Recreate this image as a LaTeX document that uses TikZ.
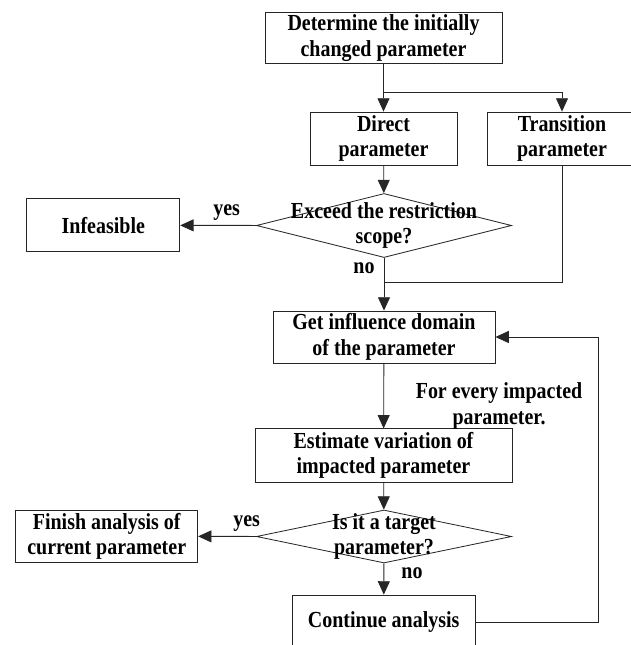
\documentclass[tikz,border=0pt]{standalone}
\usepackage{fontspec}
\setmainfont{Liberation Serif}[FakeStretch=0.87]
\usetikzlibrary{shapes.geometric,arrows.meta}

\begin{document}
\begin{tikzpicture}[
  x=0.3mm, y=-0.3mm,
  box/.style={draw=black!85, line width=0.7pt, align=center, inner sep=2pt,
              font=\bfseries\fontsize{19.6}{21.7}\selectfont},
  decision/.style={draw=black!85, line width=0.7pt, shape=diamond, inner sep=0pt},
  dtext/.style={align=center, font=\bfseries\fontsize{19.6}{21.7}\selectfont},
  lbl/.style={align=center, inner sep=0pt, font=\bfseries\fontsize{19.6}{21.7}\selectfont},
  arrow/.style={-{Triangle[length=4mm,width=3.6mm]}, draw=black!85, line width=0.7pt},
  line/.style={draw=black!85, line width=0.7pt}
]
  \useasboundingbox (0,0) rectangle (631,645);
  \clip (0,0) rectangle (631,645);

  % upper part
  \node[box, minimum width=71.1mm, minimum height=15mm] (init) at (383.5,38)
    {Determine the initially\\changed parameter};
  \node[box, minimum width=44.1mm, minimum height=15.9mm] (direct) at (383.5,138.5)
    {Direct\\parameter};
  \node[box, minimum width=45mm, minimum height=15.9mm] (trans) at (562,138.5)
    {Transition\\parameter};
  \node[decision, minimum width=76.5mm, minimum height=19.2mm] (q1) at (384,225.5) {};
  \node[dtext] (q1text) at (q1) {Exceed the restriction\\scope?};
  \node[box, minimum width=45.9mm, minimum height=15.9mm] (infeas) at (103.3,225.3)
    {Infeasible};

  % lower part
  \node[box, minimum width=66.6mm, minimum height=15.6mm] (influence) at (384,337)
    {Get influence domain\\of the parameter};
  \node[box, minimum width=77.1mm, minimum height=16mm] (estimate) at (383.5,455.5)
    {Estimate variation of\\impacted parameter};
  \node[decision, minimum width=76.5mm, minimum height=15.9mm] (q2) at (384,536.5) {};
  \node[dtext] (q2text) at (q2) {Is it a target\\parameter?};
  \node[box, minimum width=54.6mm, minimum height=15.8mm] (finish) at (106.7,536.3)
    {Finish analysis of\\current parameter};
  \node[box, minimum width=54.8mm, minimum height=16.2mm] (cont) at (383.7,622)
    {Continue analysis};

  % helper points
  \coordinate (split) at (383.5,92.7);
  \coordinate (join) at (384,282.7);
  \coordinate (loop) at (598.3,337);

  % connectors
  \draw[arrow] (init) -- (direct);
  \draw[arrow] (split) -| (trans);
  \draw[arrow] (direct) -- (q1);
  \draw[arrow] (q1) -- (infeas);
  \draw[arrow] (q1) -- (influence);
  \draw[line] (trans) |- (join);
  \draw[arrow] (influence) -- (estimate);
  \draw[arrow] (estimate) -- (q2);
  \draw[arrow] (q2) -- (finish);
  \draw[arrow] (q2) -- (cont);
  \draw[arrow] (cont) -| (loop) -- (influence);

  % labels
  \node[lbl] (yes1) at (226.7,212.7) {yes};
  \node[lbl] (no1) at (364,268) {no};
  \node[lbl] (every) at (499,406) {For every impacted\\parameter.};
  \node[lbl] (yes2) at (246.7,524) {yes};
  \node[lbl] (no2) at (412,573) {no};
\end{tikzpicture}
\end{document}
